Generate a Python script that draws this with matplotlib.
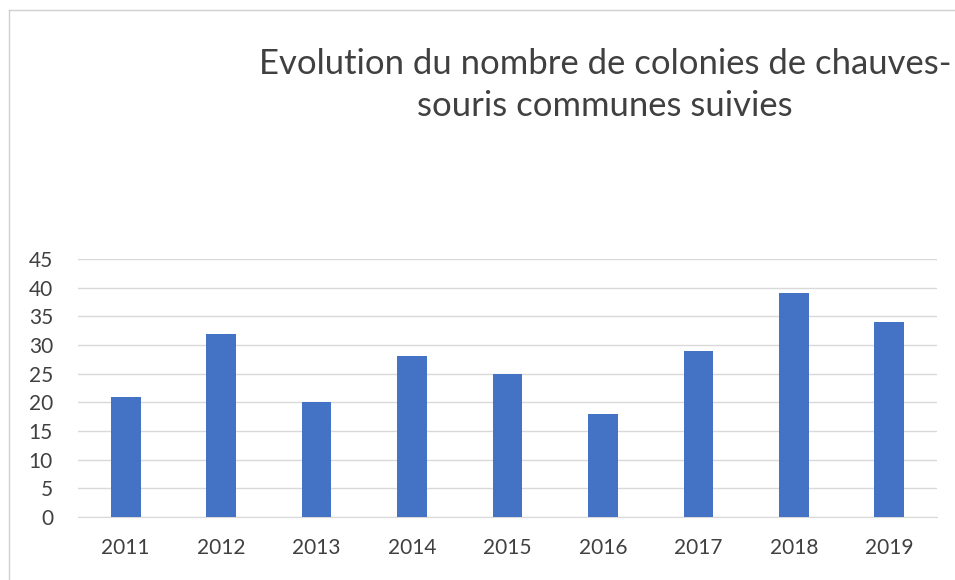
import matplotlib
matplotlib.use('Agg')
import matplotlib.pyplot as plt
from matplotlib.lines import Line2D
import numpy as np

years = ['2011', '2012', '2013', '2014', '2015', '2016', '2017', '2018', '2019']
colonies = [21, 32, 20, 28, 25, 18, 29, 39, 34]
title = 'Evolution du nombre de colonies de chauves-\nsouris communes suivies'

plt.rcParams['font.family'] = ['Lato', 'DejaVu Sans']

W, H = 955, 580
fig = plt.figure(figsize=(W / 100, H / 100), dpi=100)

# plot area in pixels: x 78..937, y 259..517
ax = fig.add_axes([78 / W, 1 - 517 / H, (937 - 78) / W, (517 - 259) / H])

x = np.arange(len(years))
ax.bar(x, colonies, width=0.31, color='#4472C4', zorder=3)

ax.set_xlim(-0.5, len(years) - 0.5)
ax.set_ylim(0, 45)
ax.set_yticks(range(0, 46, 5))
ax.set_xticks(x)
ax.set_xticklabels(years)
ax.grid(axis='y', color='#D9D9D9', linewidth=1, zorder=0)
for s in ['top', 'right', 'left']:
    ax.spines[s].set_visible(False)
ax.spines['bottom'].set_color('#D9D9D9')
ax.tick_params(axis='both', length=0, labelsize=15, colors='#404040')
ax.tick_params(axis='x', pad=15)
ax.tick_params(axis='y', pad=18)

fig.text(605 / W, 1 - 85 / H, title, ha='center', va='center', fontsize=24.9,
         color='#404040', linespacing=1.38)

# chart frame (only top and left edges visible in the crop)
fig.add_artist(Line2D([8.5 / W, 8.5 / W], [0, 1 - 9.5 / H], transform=fig.transFigure,
                      color='#D0D0D0', linewidth=1))
fig.add_artist(Line2D([8.5 / W, 1], [1 - 9.5 / H, 1 - 9.5 / H], transform=fig.transFigure,
                      color='#D0D0D0', linewidth=1))

fig.savefig('out.png', dpi=100, facecolor='white')
